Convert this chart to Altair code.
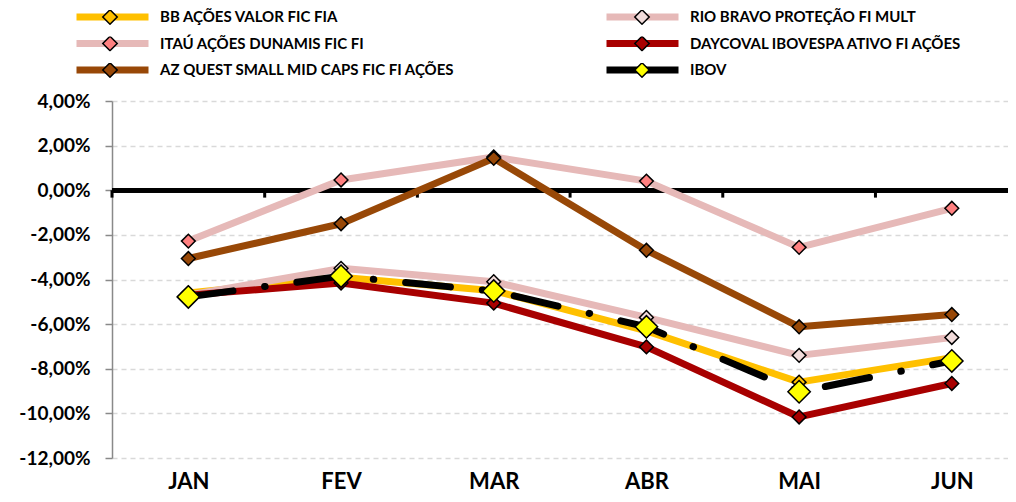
import json
import altair as alt
import pandas as pd

meses = ["JAN", "FEV", "MAR", "ABR", "MAI", "JUN"]
series = [
    "BB AÇÕES VALOR FIC FIA",
    "RIO BRAVO PROTEÇÃO FI MULT",
    "ITAÚ AÇÕES DUNAMIS FIC FI",
    "DAYCOVAL IBOVESPA ATIVO FI AÇÕES",
    "AZ QUEST SMALL MID CAPS FIC FI AÇÕES",
    "IBOV",
]
bb = [-4.60, -3.90, -4.50, -6.30, -8.60, -7.50]
rio = [-4.70, -3.50, -4.10, -5.70, -7.40, -6.60]
itau = [-2.28, 0.46, 1.49, 0.41, -2.56, -0.81]
daycoval = [-4.70, -4.16, -5.06, -7.02, -10.16, -8.66]
azquest = [-3.06, -1.50, 1.43, -2.69, -6.12, -5.57]
ibov = [-4.78, -3.85, -4.52, -6.12, -9.03, -7.65]

line_colors = ["#FFC000", "#E6B9B8", "#E6B9B8", "#A80000", "#984807", "#000000"]
marker_fills = ["#FFC000", "#F2DCDB", "#FF8080", "#A80000", "#984807", "#FFFF00"]

ZW = "\u200b"  # keeps the marker legend separate from the line legend
rows = []
for s, vals in zip(series, [bb, rio, itau, daycoval, azquest, ibov]):
    for m, v in zip(meses, vals):
        rows.append({"serie": s, "marcador": s + ZW, "mes": m, "valor": v,
                     "ordem": series.index(s)})
df = pd.DataFrame(rows)

boundaries = pd.DataFrame({"b": [i - 0.5 for i in range(len(meses))]})

month_idx = "indexof(" + json.dumps(meses) + ", datum.mes)"
label_expr = json.dumps(meses) + "[datum.value]"

FONT = "Lato"

x_enc = alt.X(
    "idx:Q",
    scale=alt.Scale(domain=[-0.5, 5.368], nice=False, zero=False),
    axis=alt.Axis(
        values=list(range(len(meses))),
        labelExpr=label_expr,
        domain=False,
        ticks=False,
        grid=False,
        labelFont=FONT,
        labelFontWeight="bold",
        labelFontSize=22,
        labelPadding=13,
        labelColor="black",
        title=None,
    ),
)
y_enc = alt.Y(
    "valor:Q",
    scale=alt.Scale(domain=[-12, 4], nice=False, zero=False),
    axis=alt.Axis(
        values=list(range(-12, 5, 2)),
        labelExpr="replace(replace(format(datum.value, '.2f'), '.', ','), '\u2212', '-') + '%'",
        grid=True,
        gridDash=[5, 4],
        gridColor="#D9D9D9",
        gridWidth=1.3,
        domainColor="#898989",
        domainWidth=1.5,
        tickColor="#898989",
        tickSize=7,
        tickWidth=1.5,
        labelPadding=15,
        labelFont=FONT,
        labelFontWeight="bold",
        labelFontSize=19,
        labelColor="black",
        title=None,
    ),
)

legend_common = dict(
    orient="none",
    legendX=-39,
    legendY=-91,
    direction="horizontal",
    columns=2,
    title=None,
    symbolSize=5184,
    clipHeight=14,
    rowPadding=11.5,
    labelOffset=8,
    labelFont=FONT,
    labelFontSize=15,
    labelFontWeight="bold",
    labelColor="black",
    labelLimit=500,
    padding=0,
)

color_scale = alt.Scale(domain=series, range=line_colors)
fill_scale = alt.Scale(domain=[s + ZW for s in series], range=marker_fills)

base = alt.Chart(df).transform_calculate(idx=month_idx)

zero_line = alt.Chart(boundaries).mark_rule(color="black", strokeWidth=4.5).encode(
    y=alt.datum(0)
)
zero_ticks = alt.Chart(boundaries).mark_rule(color="black", strokeWidth=3).encode(
    x=alt.X("b:Q"), y=alt.datum(0), y2=alt.datum(-0.33)
)

lines = base.transform_filter("datum.serie != 'IBOV'").mark_line(
    strokeWidth=7, strokeJoin="round"
).encode(
    x=x_enc,
    y=y_enc,
    color=alt.Color(
        "serie:N",
        scale=color_scale,
        legend=alt.Legend(symbolType="M-1,0H1", symbolStrokeWidth=7,
                          columnPadding=148, **legend_common),
    ),
    order=alt.Order("ordem:Q"),
)

ibov_line = base.transform_filter("datum.serie == 'IBOV'").mark_line(
    strokeWidth=7, strokeCap="round", strokeDash=[45, 32, 0.5, 32]
).encode(
    x=x_enc,
    y=y_enc,
    color=alt.Color("serie:N", scale=color_scale),
)

points = base.mark_point(
    shape="diamond", filled=True, stroke="black", strokeWidth=1.5, opacity=1
).encode(
    x=x_enc,
    y=y_enc,
    fill=alt.Fill(
        "marcador:N",
        scale=fill_scale,
        legend=alt.Legend(
            symbolType="M0,-0.2L0.2,0L0,0.2L-0.2,0Z",
            symbolStrokeColor="black",
            symbolStrokeWidth=1.5,
            labelExpr="''",
            columnPadding=450,
            **legend_common,
        ),
    ),
    size=alt.condition("datum.serie == 'IBOV'", alt.value(500), alt.value(190)),
)

chart = (
    alt.layer(zero_line, zero_ticks, lines, ibov_line, points)
    .resolve_scale(color="independent", fill="independent")
    .properties(
        width=896,
        height=357,
        autosize=alt.AutoSizeParams(type="none"),
        padding={"left": 104, "top": 93, "right": 0, "bottom": 36},
        background="white",
    )
    .configure_view(stroke=None)
)

chart.save("out.html", embed_options={"renderer": "svg", "actions": False})
